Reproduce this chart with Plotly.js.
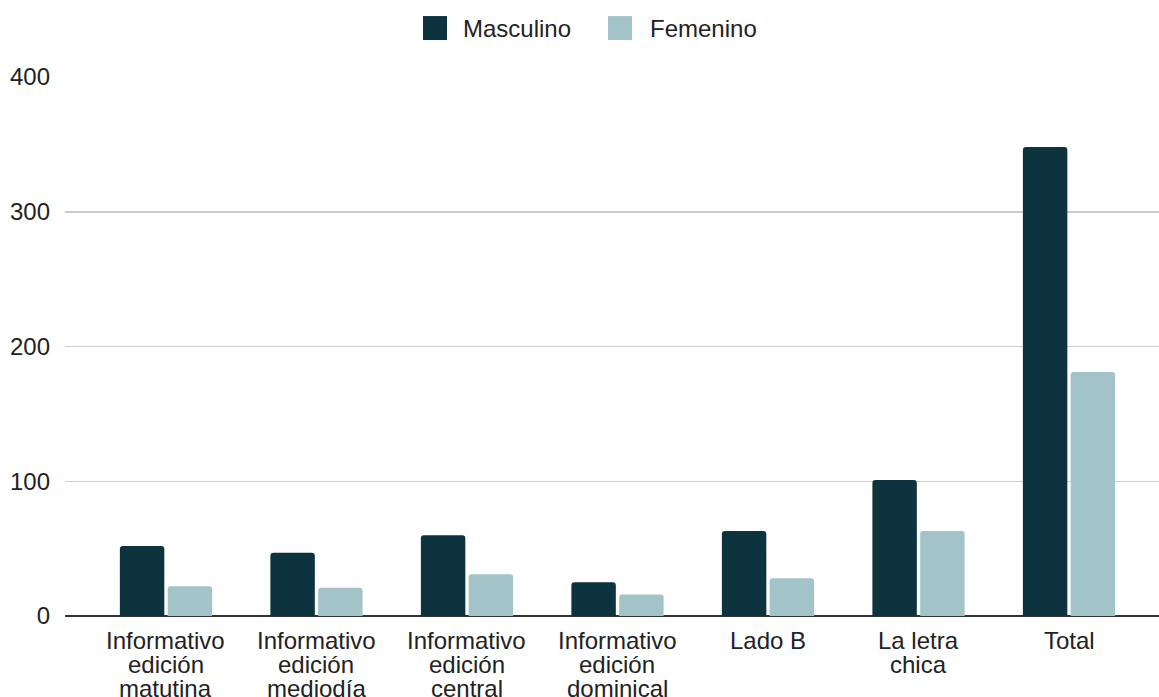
<!DOCTYPE html>
<html>
<head>
<meta charset="utf-8">
<script src="https://cdn.plot.ly/plotly-3.0.1.min.js"></script>
<style>html,body{margin:0;padding:0;background:#fff;}#chart{width:1159px;height:697px;}</style>
</head>
<body>
<div id="chart"></div>
<script>
const categories = [
  "Informativo<br>edición<br>matutina",
  "Informativo<br>edición<br>mediodía",
  "Informativo<br>edición<br>central",
  "Informativo<br>edición<br>dominical",
  "Lado B",
  "La letra<br>chica",
  "Total"
];
const seriesNames = ["Masculino", "Femenino"];
const seriesColors = ["#0c333e", "#a2c4c9"];
const masculino = [52, 47, 60, 25, 63, 101, 348];
const femenino = [22, 21, 31, 16, 28, 63, 181];
const yTicks = [0, 100, 200, 300, 400];

const font = {family: "'Liberation Sans', Arial, sans-serif", size: 24, color: "#222222"};

const data = [
  {type: "bar", name: seriesNames[0], x: categories, y: masculino, marker: {color: seriesColors[0]}},
  {type: "bar", name: seriesNames[1], x: categories, y: femenino, marker: {color: seriesColors[1]}}
];

// Category labels drawn line by line with a tighter line spacing than tick labels allow
const annotations = [];
categories.forEach(function (c) {
  c.split("<br>").forEach(function (line, j) {
    annotations.push({
      x: c, xref: "x", y: 0, yref: "y",
      text: line, showarrow: false,
      xanchor: "center", yanchor: "middle",
      yshift: -24 - 24 * j,
      font: font
    });
  });
});

// Legend (large rounded swatches like the reference)
const plotL = 65, plotW = 1094, plotB = 616.5, plotH = 539.5;
const px = function (v) { return (v - plotL) / plotW; };
const py = function (v) { return (plotB - v) / plotH; };
const legendSwatchX = [423, 608];
const legendTextX = [461, 648];
const shapes = [];
seriesNames.forEach(function (n, i) {
  shapes.push({
    type: "rect", xref: "paper", yref: "paper",
    x0: px(legendSwatchX[i]), x1: px(legendSwatchX[i] + 24),
    y0: py(40), y1: py(16),
    fillcolor: seriesColors[i], line: {width: 0}
  });
  annotations.push({
    x: px(legendTextX[i]), xref: "paper", y: py(28), yref: "paper",
    xanchor: "left", yanchor: "middle", showarrow: false,
    text: n, font: font
  });
});

const layout = {
  width: 1159, height: 697,
  margin: {l: plotL, r: 0, t: 77, b: 80.5},
  paper_bgcolor: "#ffffff", plot_bgcolor: "#ffffff",
  font: font,
  barmode: "group",
  bargap: 0.365,
  bargroupgap: 0.07,
  barcornerradius: 3,
  showlegend: false,
  annotations: annotations,
  shapes: shapes,
  xaxis: {
    type: "category",
    range: [-0.671, 6.598],
    showgrid: false, zeroline: false,
    showline: false, showticklabels: false,
    ticks: "", automargin: false
  },
  yaxis: {
    range: [0, 400],
    tickvals: yTicks,
    ticktext: yTicks.map(String),
    showgrid: true, gridcolor: "#cccccc", gridwidth: 1.5,
    zeroline: true, zerolinecolor: "#333333", zerolinewidth: 2,
    showline: false, ticks: "",
    tickfont: font, ticklabelstandoff: 14, automargin: false
  }
};

Plotly.newPlot("chart", data, layout, {displayModeBar: false, staticPlot: true});
</script>
</body>
</html>
